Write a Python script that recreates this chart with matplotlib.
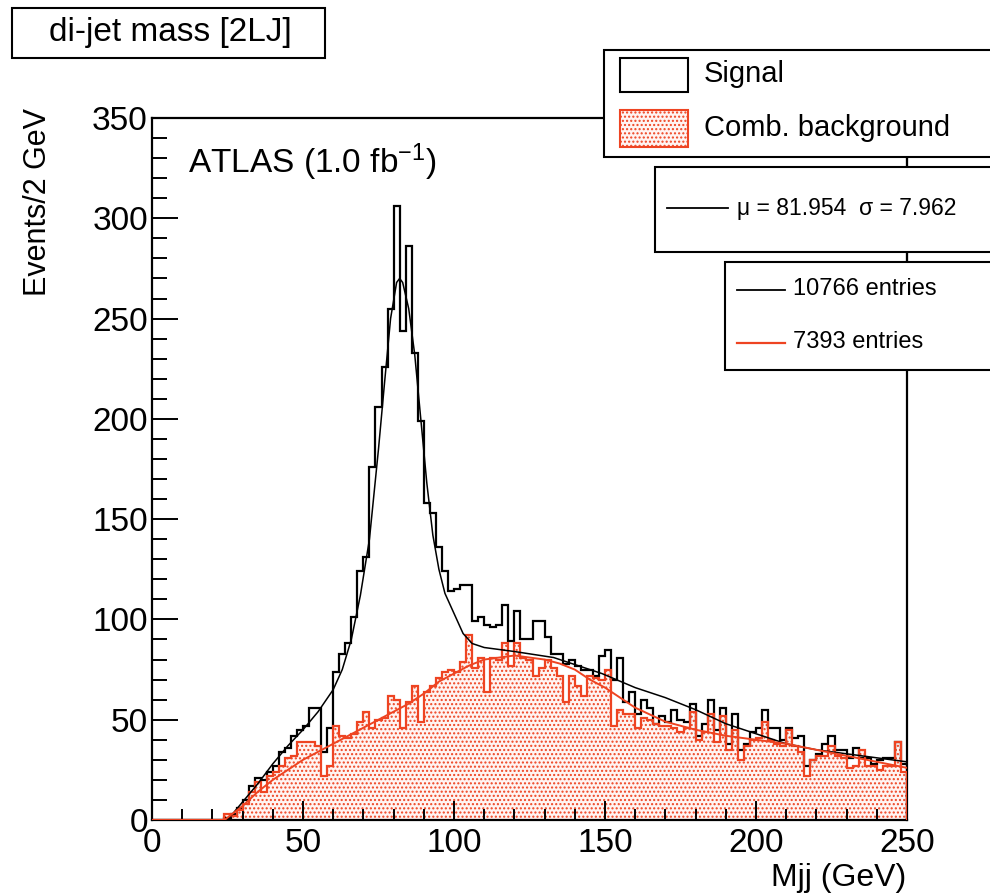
import numpy as np
import matplotlib
matplotlib.use("Agg")
import matplotlib.pyplot as plt
from matplotlib.patches import Rectangle
from matplotlib.lines import Line2D
from matplotlib.ticker import MultipleLocator
from matplotlib import font_manager

# ---------------- data ----------------
bin_edges = np.arange(0, 252, 2)

signal = [0, 0, 0, 0, 0, 0, 0, 0, 0, 0, 0, 0,
          1, 3, 6, 10, 17, 21, 20, 24, 27, 34, 36, 42, 45, 47, 56, 56, 34, 46,
          74, 83, 88, 101, 124, 131, 176, 206, 226, 255, 306, 244, 286, 233, 199,
          158, 153, 136, 124, 114, 115, 117, 117, 99, 101, 97, 96, 97, 107, 89,
          104, 90, 90, 99, 99, 91, 83, 83, 78, 80, 77, 75, 75, 72, 82,
          85, 70, 81, 59, 64, 53, 60, 56, 48, 52, 49, 55, 50, 49, 58,
          42, 48, 60, 45, 56, 38, 53, 35, 38, 44, 46, 55, 46, 46, 40,
          46, 41, 42, 27, 30, 33, 38, 42, 35, 35, 31, 36, 31, 31, 28,
          30, 31, 31, 39, 28]

background = [0, 0, 0, 0, 0, 0, 0, 0, 0, 0, 0, 0,
              3, 2, 5, 8, 14, 19, 14, 22, 24, 27, 31, 32, 39, 39, 39, 37, 22, 27,
              47, 42, 41, 43, 49, 54, 46, 50, 51, 62, 60, 46, 59, 67, 49,
              64, 67, 71, 74, 75, 74, 79, 92, 76, 81, 64, 81, 80, 88, 77,
              88, 81, 80, 72, 76, 80, 76, 72, 59, 72, 67, 62, 72, 71, 70,
              75, 47, 55, 53, 53, 46, 51, 50, 48, 47, 47, 46, 44, 46, 54,
              40, 44, 53, 39, 52, 35, 45, 30, 37, 40, 41, 49, 40, 38, 37,
              45, 37, 34, 22, 30, 32, 32, 37, 32, 31, 26, 27, 35, 27, 27,
              25, 27, 27, 39, 24]

signal_fit_x = [25, 30, 35, 40, 45, 50, 55, 60, 63, 66, 69, 72, 75, 77, 79, 81, 82,
                83, 85, 87, 89, 91, 93, 95, 97, 100, 103, 106, 110, 120, 133, 149,
                160, 170, 180, 190, 200, 210, 220, 230, 240, 250]
signal_fit_y = [0, 9, 18, 28, 37, 45, 54, 65, 75, 90, 112, 140, 185, 218, 250, 268, 270,
                268, 255, 232, 200, 168, 142, 125, 113, 103, 93, 88, 86, 84, 81, 73,
                66, 61, 55, 48, 43, 38, 35, 33, 31, 29]

bkg_fit_x = [24, 30, 35, 40, 45, 50, 55, 60, 65, 70, 75, 80, 85, 90, 95, 100, 105, 110,
             115, 120, 125, 130, 135, 140, 145, 150, 155, 160, 170, 180, 190, 200, 210,
             220, 230, 240, 250]
bkg_fit_y = [0, 7, 14, 20, 25, 30, 34, 38, 42, 46, 50, 54, 58, 63, 69, 73, 77, 80,
             81, 82, 81, 80, 78, 75, 70, 66, 61, 56, 49, 45, 42, 40, 38, 35, 32, 29, 26]

x_ticks = [0, 50, 100, 150, 200, 250]
y_ticks = [0, 50, 100, 150, 200, 250, 300, 350]

title_text = "di-jet mass [2LJ]"
legend_labels = ["Signal", "Comb. background"]
fit_text = "\u03bc = 81.954  \u03c3 = 7.962"
entries_labels = ["10766 entries", "7393 entries"]
atlas_text = "ATLAS (1.0 fb$^{-1}$)"
x_label = "Mjj (GeV)"
y_label = "Events/2 GeV"

RED = "#ee4422"

# ---------------- fonts ----------------
def has_font(name):
    try:
        font_manager.findfont(font_manager.FontProperties(family=name),
                              fallback_to_default=False)
        return True
    except Exception:
        return False


NARROW = has_font("Liberation Sans Narrow")
BIG = ["Liberation Sans Narrow", "Liberation Sans", "DejaVu Sans"] if NARROW \
    else ["Liberation Sans", "DejaVu Sans"]
S = 1.18 if NARROW else 1.0   # size factor for the condensed large texts

plt.rcParams["font.family"] = ["Liberation Sans", "DejaVu Sans"]
plt.rcParams["mathtext.fontset"] = "custom"
plt.rcParams["mathtext.rm"] = BIG[0]
plt.rcParams["mathtext.it"] = BIG[0]
plt.rcParams["mathtext.default"] = "regular"
plt.rcParams["hatch.linewidth"] = 1.0

W, H = 990, 894
fig = plt.figure(figsize=(W / 100, H / 100), dpi=100)


def fx(px):
    return px / W


def fy(py):
    return 1 - py / H


ax = fig.add_axes([fx(152), fy(820), fx(907) - fx(152), fy(118) - fy(820)])
ax.set_xlim(0, 250)
ax.set_ylim(0, 350)

# background filled (dotted) histogram
ax.stairs(background, bin_edges, fill=True, facecolor="#fff4f2", edgecolor=RED,
          hatch="....", linewidth=0, zorder=1)
# signal histogram
ax.stairs(signal, bin_edges, color="black", linewidth=1.6, zorder=2)
# background outline
ax.stairs(background, bin_edges, color=RED, linewidth=1.6, zorder=3)
# fits
ax.plot(signal_fit_x, signal_fit_y, color="black", linewidth=1.1, zorder=4)
ax.plot(bkg_fit_x, bkg_fit_y, color=RED, linewidth=1.4, zorder=4)

ax.set_xticks(x_ticks)
ax.set_yticks(y_ticks)
ax.xaxis.set_minor_locator(MultipleLocator(10))
ax.yaxis.set_minor_locator(MultipleLocator(10))
ax.tick_params(which="both", direction="in", top=False, right=False, width=1.4)
ax.tick_params(axis="x", which="major", length=14, pad=6)
ax.tick_params(axis="x", which="minor", length=8)
ax.tick_params(axis="y", which="major", length=19, pad=3)
ax.tick_params(axis="y", which="minor", length=11)
for lab in ax.get_xticklabels() + ax.get_yticklabels():
    lab.set_family(BIG)
    lab.set_fontsize(24 * S)
for s in ax.spines.values():
    s.set_linewidth(1.6)

# ---------------- annotations ----------------
def box(x0, y0, x1, y1, **kw):
    r = Rectangle((fx(x0), fy(y1)), fx(x1) - fx(x0), fy(y0) - fy(y1),
                  transform=fig.transFigure, zorder=kw.pop("zorder", 5), **kw)
    fig.add_artist(r)
    return r


def hline(x0, x1, y, color, lw):
    fig.add_artist(Line2D([fx(x0), fx(x1)], [fy(y), fy(y)], transform=fig.transFigure,
                          color=color, linewidth=lw, zorder=7))


# title box
box(12, 8, 325, 58, facecolor="white", edgecolor="black", linewidth=1.5)
fig.text(fx(170), fy(33), title_text, ha="center", va="center", fontsize=24 * S,
         family=BIG, zorder=7)

# connectors on the right frame line
fig.add_artist(Line2D([fx(907), fx(907)], [fy(157), fy(262)], transform=fig.transFigure,
                      color="black", linewidth=1.5, zorder=4))

# legend box
box(604, 50, 1010, 157, facecolor="white", edgecolor="black", linewidth=1.5)
box(620, 58, 688, 92, facecolor="white", edgecolor="black", linewidth=1.5, zorder=6)
box(620, 110, 688, 147, facecolor="#fff4f2", edgecolor=RED, linewidth=1.5,
    hatch="....", zorder=6)
fig.text(fx(704), fy(74), legend_labels[0], ha="left", va="center", fontsize=21 * S,
         family=BIG, zorder=7)
fig.text(fx(704), fy(128), legend_labels[1], ha="left", va="center", fontsize=21 * S,
         family=BIG, zorder=7)

# fit box
box(655, 167, 1010, 252, facecolor="white", edgecolor="black", linewidth=1.5)
hline(667, 728, 208, "black", 1.3)
fig.text(fx(737), fy(209), fit_text, ha="left", va="center", fontsize=16.5, zorder=7)

# entries box
box(725, 262, 1010, 370, facecolor="white", edgecolor="black", linewidth=1.5)
hline(737, 785, 290, "black", 1.3)
hline(737, 785, 343, RED, 1.6)
fig.text(fx(793), fy(289), entries_labels[0], ha="left", va="center", fontsize=17, zorder=7)
fig.text(fx(793), fy(342), entries_labels[1], ha="left", va="center", fontsize=17, zorder=7)

# ATLAS label
fig.text(fx(188), fy(162), atlas_text, ha="left", va="center", fontsize=24 * S,
         family=BIG, zorder=7)

# axis titles
fig.text(fx(38), fy(108), y_label, rotation=90, ha="center", va="top", fontsize=22 * S,
         family=BIG)
fig.text(fx(906), fy(878), x_label, ha="right", va="center", fontsize=23 * S, family=BIG)

fig.savefig("out.png", dpi=100, facecolor="white")
